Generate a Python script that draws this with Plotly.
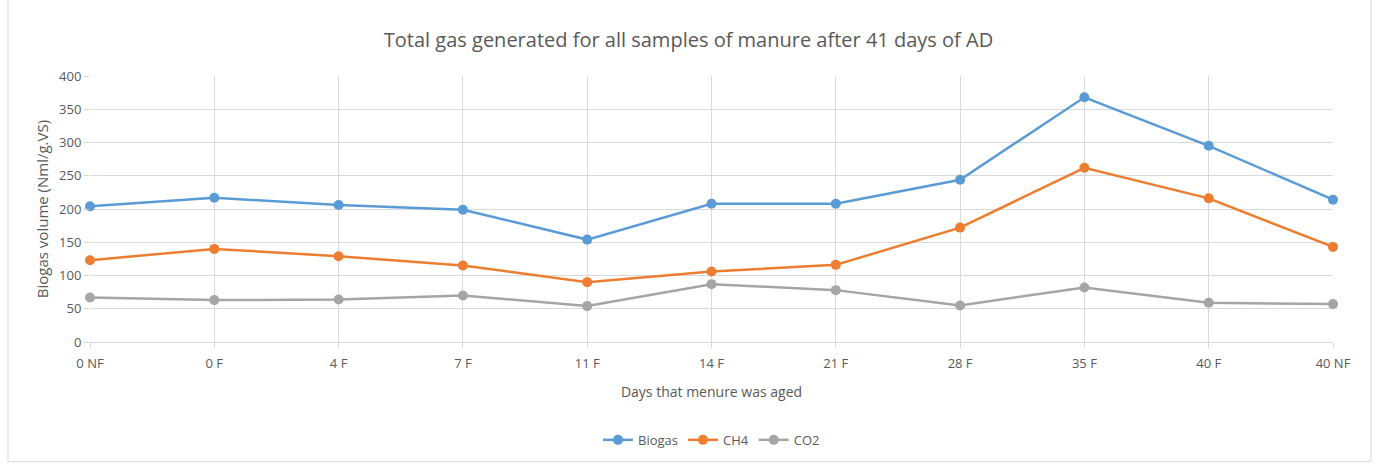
import plotly.graph_objects as go

# Data
days = ["0 NF", "0 F", "4 F", "7 F", "11 F", "14 F", "21 F", "28 F", "35 F", "40 F", "40 NF"]
biogas = [204, 217, 206, 199, 154, 208, 208, 244, 368, 295, 214]
ch4 = [123, 140, 129, 115, 90, 106, 116, 172, 262, 216, 143]
co2 = [67, 63, 64, 70, 54, 87, 78, 55, 82, 59, 57]

COLORS = {"Biogas": "#5B9BD5", "CH4": "#ED7D31", "CO2": "#A5A5A5"}
FONT = "Open Sans"
GRID = "#d9d9d9"
TEXT = "#595959"

W, H = 1377, 467
L, R, T, B = 90, 44, 76, 122

fig = go.Figure()
for name, vals in [("Biogas", biogas), ("CH4", ch4), ("CO2", co2)]:
    fig.add_trace(go.Scatter(
        x=days, y=vals, name=name, mode="lines+markers",
        line=dict(color=COLORS[name], width=2.5),
        marker=dict(color=COLORS[name], size=10),
        cliponaxis=False,
    ))

pw = W - L - R
ph = H - T - B
# outer chart border like the Excel frame
fig.add_shape(
    type="rect", xref="paper", yref="paper",
    x0=(8 - L) / pw, x1=(1371 - L) / pw,
    y0=-(466 - (H - B)) / ph, y1=(H - B + 2) / ph,
    line=dict(color="#d9d9d9", width=1), layer="below",
)

fig.update_layout(
    width=W, height=H,
    margin=dict(l=L, r=R, t=T, b=B),
    paper_bgcolor="white", plot_bgcolor="white",
    font=dict(family=FONT, color=TEXT, size=13),
    title=dict(text="Total gas generated for all samples of manure after 41 days of AD",
               x=0.5, xanchor="center", y=1 - 40 / H, yanchor="middle",
               font=dict(size=20, color=TEXT)),
    legend=dict(orientation="h", x=0.5, xanchor="center", y=-(444 - (H - B)) / ph,
                yanchor="middle", font=dict(size=13, color=TEXT)),
    showlegend=True,
)
fig.update_xaxes(
    title=dict(text="Days that menure was aged", font=dict(size=14, color=TEXT), standoff=16),
    automargin=False,
    showgrid=True, gridcolor=GRID, gridwidth=1,
    showline=True, linecolor=GRID, linewidth=1,
    ticks="outside", tickcolor=GRID, ticklen=5, ticklabelstandoff=4,
    range=[0, len(days) - 1], tickfont=dict(size=13, color=TEXT),
)
fig.update_yaxes(
    title=dict(text="Biogas volume (Nml/g.VS)", font=dict(size=15, color=TEXT), standoff=6),
    automargin=False,
    range=[0, 400], dtick=50,
    showgrid=True, gridcolor=GRID, gridwidth=1,
    zeroline=True, zerolinecolor=GRID,
    ticks="outside", tickcolor=GRID, ticklen=5,
    tickfont=dict(size=13, color=TEXT),
)

fig.write_html("out.html", config={"displayModeBar": False},
               post_script="document.body.style.margin='0';")
